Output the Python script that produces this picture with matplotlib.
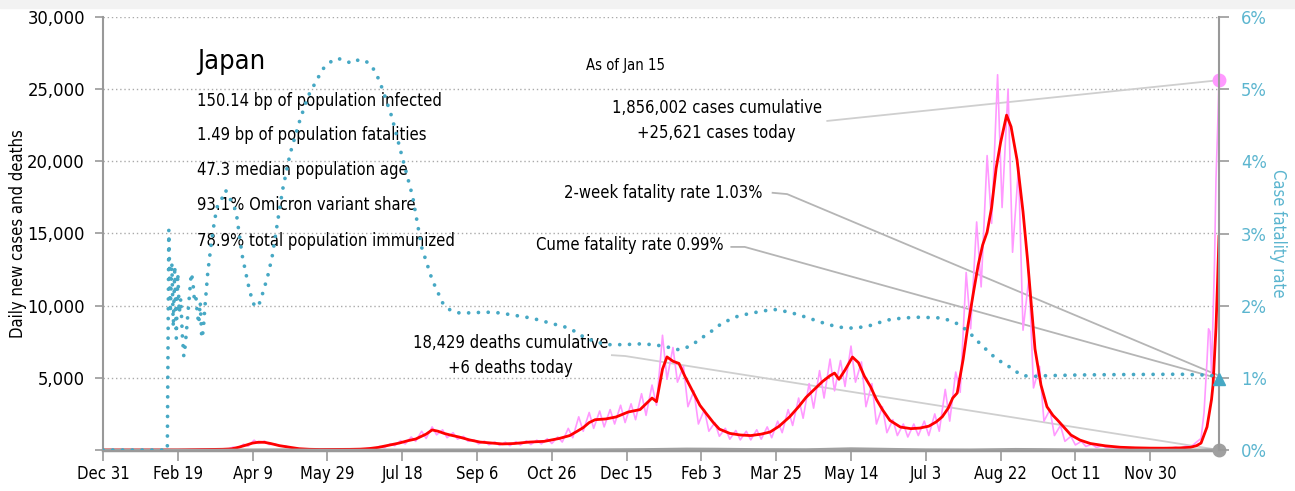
import datetime as dt
import matplotlib
matplotlib.use("Agg")
import matplotlib.pyplot as plt
from matplotlib import font_manager as fm
from matplotlib.patches import Rectangle

START = dt.date(2019, 12, 31)
LAST_DAY = 746

# 7-day average of new cases (day index from Dec 31, 2019)
red_days = [0, 35, 50, 60, 70, 80, 86, 91, 96, 100, 104, 108, 112, 118, 124, 131, 138, 145,
            155, 165, 172, 178, 184, 191, 198, 204, 209, 213, 216, 220, 224, 228, 232, 238,
            245, 252, 260, 267, 275, 285, 295, 305, 312, 317, 321, 325, 329, 336, 343, 351,
            359, 364, 367, 370, 374, 377, 381, 385, 389, 394, 399, 403, 408, 412, 419, 426,
            433, 440, 446, 452, 459, 465, 470, 476, 481, 486, 489, 492, 496, 501, 505, 509,
            513, 517, 521, 526, 533, 540, 546, 552, 557, 561, 565, 568, 571, 575, 578, 582,
            585, 588, 591, 594, 597, 600, 604, 607, 611, 615, 618, 621, 623, 627, 631, 635,
            638, 643, 647, 653, 660, 670, 680, 690, 700, 710, 720, 727, 731, 734, 738, 741,
            742, 744, 745, 746]
red_vals = [0, 1, 3, 20, 40, 50, 80, 200, 350, 480, 540, 530, 450, 300, 200, 90, 50, 35,
            40, 45, 60, 100, 180, 330, 480, 650, 760, 950, 1100, 1390, 1300, 1150, 1040, 900,
            700, 550, 480, 420, 450, 550, 600, 800, 1000, 1300, 1550, 1900, 2100, 2150, 2290, 2630,
            2800, 3300, 3600, 3350, 5600, 6450, 6150, 6000, 5100, 4100, 3100, 2560, 1900, 1450, 1150, 1040,
            1000, 1100, 1250, 1650, 2300, 3000, 3650, 4250, 4750, 5150, 5330, 4900, 5540, 6440, 6050, 5100,
            4400, 3500, 2800, 2050, 1590, 1480, 1520, 1650, 1950, 2300, 2900, 3600, 3950, 6300, 8500, 11000,
            12800, 14200, 15100, 16800, 19500, 21300, 23200, 22400, 20100, 16500, 13200, 9500, 7000, 4500, 3000, 2400,
            2080, 1500, 1040, 690, 450, 290, 190, 150, 130, 125, 145, 190, 300, 480, 1600, 3500,
            4500, 8500, 11500, 14800]

# daily new cases: weekly high (Fri) and low (Mon) reports, then the last days one by one
pink_week_days = sorted(list(range(3, 728, 7)) + list(range(6, 728, 7)))
pink_week_vals = [
    0, 0, 0, 0, 1, 0, 2, 1, 3, 1, 4, 2, 10, 4, 20, 10, 25, 14, 55, 30,
    55, 30, 60, 40, 200, 110, 400, 260, 680, 450, 620, 380, 420, 260, 280, 150,
    140, 70, 70, 35, 45, 25, 50, 30, 50, 35, 55, 40, 80, 50, 130, 80,
    250, 160, 420, 300, 650, 420, 900, 600, 1300, 800, 1600, 1050, 1400, 850, 1200, 750,
    950, 600, 700, 420, 620, 360, 560, 320, 540, 300, 580, 350, 640, 380, 680, 420,
    780, 450, 900, 550, 1500, 850, 2300, 1300, 2600, 1500, 2700, 1600, 2800, 1800, 3100, 1900,
    3200, 2100, 3900, 2400, 4500, 3100, 7950, 4900, 7100, 4700, 5800, 3000, 4100, 1800,
    2800, 1300, 1900, 950, 1500, 750, 1350, 700, 1300, 700, 1400, 750, 1600, 850,
    2000, 1200, 2800, 1700, 3600, 2200, 4600, 2900, 5500, 3600, 6300, 4100, 6200, 4400,
    7200, 4700, 6100, 3000, 4600, 1800, 3000, 1200, 2100, 1000, 1800, 900, 1800, 1000,
    2000, 1000, 2500, 1300, 4200, 2000, 5400, 4000, 12300, 8400, 15800, 11300, 20400, 15700,
    26000, 16800, 25000, 13700, 19600, 8300, 12000, 4300, 5800, 2000, 2800, 1000, 1700, 600,
    950, 350, 600, 250, 400, 180, 300, 150, 220, 110, 180, 100, 160, 90, 150, 90,
    150, 100, 160, 110, 190, 120, 270, 200]
pink_tail_days = [731, 734, 736, 738, 739, 740, 741, 743, 744, 745, 746]
pink_tail_vals = [550, 800, 2600, 6200, 8400, 8200, 5300, 13000, 18800, 22000, 25621]

# cumulative case fatality rate, %
cfr_days = [0, 43, 44, 45, 46, 47, 48, 49, 50, 51, 52, 53, 54, 55, 56, 57, 58, 59, 60, 61,
            62, 63, 64, 65, 66, 67, 68, 69, 70, 72, 74, 76, 78, 80, 82, 84, 86, 89, 93, 97,
            100, 102, 104, 106, 110, 113, 117, 120, 125, 131, 137, 143, 147, 151, 155, 158, 163, 167,
            170, 173, 177, 180, 184, 187, 193, 200, 207, 213, 220, 227, 232, 238, 245, 256,
            265, 274, 283, 292, 300, 307, 314, 321, 329, 337, 348, 359, 368, 377, 383, 388,
            394, 400, 407, 414, 425, 437, 448, 459, 470, 480, 490, 497, 503, 512, 524, 535,
            546, 560, 567, 573, 579, 584, 589, 593, 598, 604, 610, 615, 622, 631, 653, 680,
            720, 735, 742, 746]
cfr_vals = [0, 0, 3.05, 1.9, 2.6, 1.7, 2.55, 1.55, 2.45, 1.9, 2.1, 1.6, 1.3, 1.45, 1.7, 1.95, 2.2, 2.45, 2.35, 2.1,
            2.15, 1.9, 1.75, 2.05, 1.55, 1.65, 1.95, 2.2, 2.45, 2.8, 3.1, 3.35, 3.45, 3.5, 3.6, 3.5, 3.45, 3.3, 2.7, 2.3,
            2.05, 1.98, 2.0, 2.12, 2.4, 2.67, 3.2, 3.6, 4.1, 4.53, 4.9, 5.13, 5.28, 5.36, 5.42, 5.42, 5.38, 5.36,
            5.4, 5.41, 5.37, 5.31, 5.15, 4.99, 4.62, 4.06, 3.51, 2.81, 2.36, 2.04, 1.94, 1.9, 1.9, 1.91,
            1.9, 1.87, 1.84, 1.8, 1.75, 1.72, 1.66, 1.57, 1.5, 1.46, 1.46, 1.47, 1.46, 1.43, 1.39, 1.4,
            1.46, 1.55, 1.65, 1.76, 1.86, 1.91, 1.95, 1.91, 1.84, 1.77, 1.71, 1.69, 1.69, 1.72, 1.8, 1.83,
            1.84, 1.83, 1.79, 1.73, 1.63, 1.52, 1.42, 1.34, 1.25, 1.18, 1.09, 1.03, 1.02, 1.03, 1.04, 1.045,
            1.05, 1.04, 1.03, 0.99]

# daily deaths, 7-day average
death_days = [0, 60, 100, 120, 140, 170, 200, 230, 260, 300, 330, 360, 390, 410, 440, 470,
              500, 520, 550, 580, 610, 630, 660, 700, 746]
death_vals = [0, 1, 10, 18, 10, 1, 2, 10, 8, 5, 20, 40, 80, 70, 40, 30,
              100, 70, 20, 10, 55, 40, 10, 2, 6]

cases_today = 25621
deaths_today = 6
cfr_2wk = 1.03
cfr_cume = 0.99

x_ticks = list(range(0, 701, 50))
y_ticks = [0, 5000, 10000, 15000, 20000, 25000, 30000]
y_tick_labels = ["", "5,000", "10,000", "15,000", "20,000", "25,000", "30,000"]
cfr_ticks = [0, 1, 2, 3, 4, 5, 6]
cfr_tick_labels = ["0%", "1%", "2%", "3%", "4%", "5%", "6%"]

country = "Japan"
stats = ["150.14 bp of population infected",
         "1.49 bp of population fatalities",
         "47.3 median population age",
         "93.1% Omicron variant share",
         "78.9% total population immunized"]

# font: prefer a narrow face
names = {f.name for f in fm.fontManager.ttflist}
condensed = [f for f in fm.fontManager.ttflist
             if f.name == "DejaVu Sans" and f.stretch == "condensed"]
if "Liberation Sans Narrow" in names:
    plt.rcParams["font.family"] = ["Liberation Sans Narrow", "DejaVu Sans"]
    FS = 1.0
elif condensed:
    plt.rcParams["font.family"] = ["DejaVu Sans"]
    plt.rcParams["font.stretch"] = "condensed"
    FS = 0.85
else:
    plt.rcParams["font.family"] = ["Roboto", "DejaVu Sans"]
    FS = 0.8

TEAL = "#46A8C4"
TEAL_TXT = "#5BB5CF"
PINK = "#FF99FF"
GRAY = "#999999"

fig = plt.figure(figsize=(12.95, 4.91), dpi=100)
fig.patches.append(Rectangle((0, 1 - 8 / 491), 1, 8 / 491, transform=fig.transFigure,
                             color="#F2F2F2", zorder=0))
ax = fig.add_axes([103 / 1295, 41 / 491, 1116 / 1295, 433 / 491])
ax2 = ax.twinx()

pink_days = [0] + pink_week_days + pink_tail_days
pink_vals = [0] + pink_week_vals + pink_tail_vals
ax.plot(pink_days, pink_vals, color=PINK, lw=1.2, zorder=3)
ax.plot(red_days, red_vals, color="#FF0000", lw=2, zorder=4)
ax.plot(death_days, death_vals, color="#A0A0A0", lw=1.8, zorder=5)
ax.plot([LAST_DAY], [cases_today], "o", color=PINK, ms=9, clip_on=False, zorder=6)
ax.plot([LAST_DAY], [deaths_today], "o", color="#A0A0A0", ms=9, clip_on=False, zorder=6)

ax2.plot(cfr_days, cfr_vals, color=TEAL, lw=2.7, linestyle=(0, (0.01, 2.6)),
         dash_capstyle="round", zorder=3)
ax2.plot([LAST_DAY], [cfr_cume], "^", color=TEAL, ms=9, clip_on=False, zorder=6)

ax.set_xlim(0, LAST_DAY)
ax.set_ylim(0, 30000)
ax2.set_ylim(0, 6)

ax.set_xticks(x_ticks)
ax.set_xticklabels([f"{(START + dt.timedelta(days=d)):%b} {(START + dt.timedelta(days=d)).day}"
                    for d in x_ticks])
ax.set_yticks(y_ticks)
ax.set_yticklabels(y_tick_labels)
ax2.set_yticks(cfr_ticks)
ax2.set_yticklabels(cfr_tick_labels)

ax.yaxis.grid(True, linestyle=(0, (1, 2)), color="#AAAAAA", lw=1)
ax.set_axisbelow(True)

for s in ["top", "right"]:
    ax.spines[s].set_visible(False)
for s in ["top", "left", "bottom"]:
    ax2.spines[s].set_visible(False)
for sp in [ax.spines["left"], ax.spines["bottom"], ax2.spines["right"]]:
    sp.set_color(GRAY)
    sp.set_linewidth(1.5)
ax.spines["bottom"].set_linewidth(2.5)

ax.tick_params(axis="x", length=8, width=1.2, color=GRAY, pad=3, labelsize=14 * FS)
ax.tick_params(axis="y", length=6, width=1.2, color=GRAY, pad=7, labelsize=15.5 * FS)
ax2.tick_params(axis="y", length=7, width=1.2, color=GRAY, pad=9, labelsize=15.5 * FS,
                labelcolor=TEAL_TXT)
ax.set_ylabel("Daily new cases and deaths", fontsize=14 * FS, labelpad=0)
ax2.set_ylabel("Case fatality rate", fontsize=14 * FS, color=TEAL_TXT, rotation=270,
               labelpad=14)

# text block
ax.text(0.0842, 0.896, country, transform=ax.transAxes, fontsize=23 * FS, va="center")
for fy, line in zip([0.806, 0.727, 0.647, 0.566, 0.483], stats):
    ax.text(0.0842, fy, line, transform=ax.transAxes, fontsize=14 * FS, va="center")
ax.text(0.468, 0.889, "As of Jan 15", transform=ax.transAxes, fontsize=12.5 * FS,
        ha="center", va="center")

ax.text(0.550, 0.790, "1,856,002 cases cumulative", transform=ax.transAxes,
        fontsize=14 * FS, ha="center", va="center")
ax.text(0.550, 0.732, f"+{cases_today:,} cases today", transform=ax.transAxes,
        fontsize=14 * FS, ha="center", va="center")
ax.text(0.591, 0.594, f"2-week fatality rate {cfr_2wk:.2f}%", transform=ax.transAxes,
        fontsize=14 * FS, ha="right", va="center")
ax.text(0.556, 0.473, f"Cume fatality rate {cfr_cume:.2f}%", transform=ax.transAxes,
        fontsize=14 * FS, ha="right", va="center")
ax.text(0.365, 0.247, "18,429 deaths cumulative", transform=ax.transAxes,
        fontsize=14 * FS, ha="center", va="center")
ax.text(0.365, 0.189, f"+{deaths_today} deaths today", transform=ax.transAxes,
        fontsize=14 * FS, ha="center", va="center")


def to_axes(a, x, y):
    return ax.transAxes.inverted().transform(a.transData.transform((x, y)))


def leader(points, target, color):
    xs = [p[0] for p in points] + [target[0]]
    ys = [p[1] for p in points] + [target[1]]
    ax.plot(xs, ys, transform=ax.transAxes, color=color, lw=1.3, clip_on=False, zorder=2)


leader([(0.649, 0.760)], to_axes(ax, LAST_DAY, cases_today), "#CFCFCF")
leader([(0.600, 0.594), (0.613, 0.591)], to_axes(ax2, LAST_DAY, cfr_2wk), "#B5B5B5")
leader([(0.563, 0.469), (0.575, 0.469)], to_axes(ax2, LAST_DAY, cfr_cume), "#B5B5B5")
leader([(0.456, 0.219), (0.468, 0.217)], to_axes(ax, LAST_DAY, 0), "#CFCFCF")

fig.savefig("out.png", dpi=100)
